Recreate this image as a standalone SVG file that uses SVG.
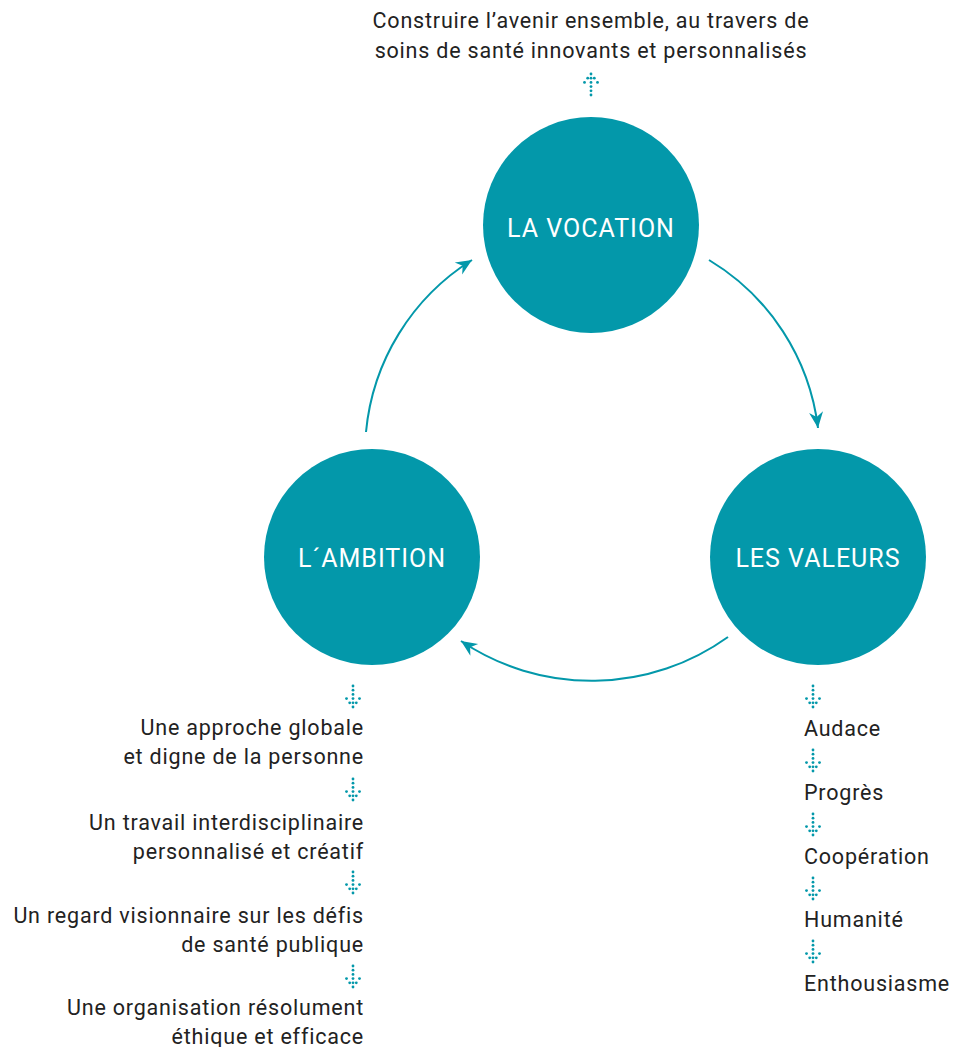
<svg xmlns="http://www.w3.org/2000/svg" xmlns:xlink="http://www.w3.org/1999/xlink" width="953" height="1047" viewBox="0 0 953 1047">
<style>
.node{fill:#0398aa}
.lbl{font-family:Roboto,"Liberation Sans",sans-serif;font-size:25px;letter-spacing:1px;fill:#ffffff;text-anchor:middle}
.txt{font-family:Roboto,"Liberation Sans",sans-serif;font-size:21.5px;letter-spacing:0.8px;fill:#222222}
.r{text-anchor:end}
.m{text-anchor:middle}
.conn{fill:none;stroke:#0398aa;stroke-width:2}
.dot{fill:#0398aa}
</style>
<defs>
<marker id="ah" markerUnits="userSpaceOnUse" markerWidth="20" markerHeight="20" refX="0" refY="0" viewBox="-17 -10 20 20" orient="auto">
<path d="M0,0 L-16,-7 L-11,0 L-16,7 Z" fill="#0398aa"/>
</marker>
<g id="darr">
<circle class="dot" cx="0" cy="0" r="1.4"/>
<circle class="dot" cx="0" cy="4.2" r="1.4"/>
<circle class="dot" cx="0" cy="8.4" r="1.4"/>
<circle class="dot" cx="0" cy="12.6" r="1.4"/>
<circle class="dot" cx="0" cy="16.8" r="1.4"/>
<circle class="dot" cx="0" cy="21" r="1.4"/>
<circle class="dot" cx="-6.5" cy="12.6" r="1.4"/>
<circle class="dot" cx="6.5" cy="12.6" r="1.4"/>
<circle class="dot" cx="-3.3" cy="16.8" r="1.4"/>
<circle class="dot" cx="3.3" cy="16.8" r="1.4"/>
</g>
</defs>
<rect width="953" height="1047" fill="#ffffff"/>

<g id="connectors">
<path class="conn" d="M366,432 A228,228 0 0,1 472,260" marker-end="url(#ah)"/>
<path class="conn" d="M709,260 A228,228 0 0,1 818,428" marker-end="url(#ah)"/>
<path class="conn" d="M728,637 A234,234 0 0,1 461,641" marker-end="url(#ah)"/>
</g>

<g id="vocation">
<circle class="node" cx="591" cy="225" r="108"/>
<text class="lbl" x="591" y="237">LA VOCATION</text>
</g>
<g id="ambition">
<circle class="node" cx="372" cy="557" r="108"/>
<text class="lbl" x="372" y="567">L´AMBITION</text>
</g>
<g id="valeurs">
<circle class="node" cx="818" cy="557" r="108"/>
<text class="lbl" x="818" y="567">LES VALEURS</text>
</g>

<g id="vocation-text">
<text class="txt m" x="591" y="28">Construire l’avenir ensemble, au travers de</text>
<text class="txt m" x="591" y="58">soins de santé innovants et personnalisés</text>
<use xlink:href="#darr" transform="translate(591,95) scale(1,-1)"/>
</g>

<g id="ambition-text">
<use xlink:href="#darr" x="353" y="686"/>
<text class="txt r" x="364" y="735">Une approche globale</text>
<text class="txt r" x="364" y="764">et digne de la personne</text>
<use xlink:href="#darr" x="353" y="779"/>
<text class="txt r" x="364" y="830">Un travail interdisciplinaire</text>
<text class="txt r" x="364" y="859">personnalisé et créatif</text>
<use xlink:href="#darr" x="353" y="872"/>
<text class="txt r" x="364" y="923">Un regard visionnaire sur les défis</text>
<text class="txt r" x="364" y="952">de santé publique</text>
<use xlink:href="#darr" x="353" y="966"/>
<text class="txt r" x="364" y="1015">Une organisation résolument</text>
<text class="txt r" x="364" y="1044">éthique et efficace</text>
</g>

<g id="valeurs-text">
<use xlink:href="#darr" x="813" y="686"/>
<text class="txt" x="804" y="736">Audace</text>
<use xlink:href="#darr" x="813" y="750"/>
<text class="txt" x="804" y="800">Progrès</text>
<use xlink:href="#darr" x="813" y="814"/>
<text class="txt" x="804" y="864">Coopération</text>
<use xlink:href="#darr" x="813" y="878"/>
<text class="txt" x="804" y="927">Humanité</text>
<use xlink:href="#darr" x="813" y="941"/>
<text class="txt" x="804" y="991">Enthousiasme</text>
</g>
</svg>
